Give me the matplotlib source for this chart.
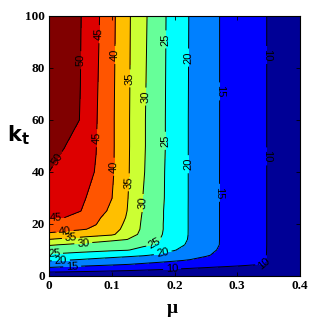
import matplotlib
matplotlib.use("Agg")
import matplotlib.pyplot as plt

# grid
mu = [0, 0.025, 0.05, 0.075, 0.1, 0.125, 0.15, 0.175, 0.2, 0.225, 0.25, 0.275, 0.3, 0.35, 0.4]
kt = [0, 1.5, 3, 4.5, 6, 8, 10, 12, 14, 16, 18, 20, 22.5, 25, 30, 40, 50, 60, 100]

z_rows = [
    [5.6, 5.6, 5.5, 5.5, 5.5, 5.4, 5.4, 5.3, 5.3, 5.3, 5.2, 5.2, 5.2, 5.1, 5.0],
    [10.0, 9.75, 9.5, 9.25, 9.0, 8.75, 8.5, 8.25, 8.0, 7.75, 7.5, 7.25, 7.0, 6.5, 6.0],
    [14.4, 13.9, 13.4, 13.0, 12.5, 12.0, 11.5, 11.0, 10.6, 10.1, 9.6, 9.1, 8.6, 7.5, 6.5],
    [17.5, 17.0, 16.5, 16.0, 15.6, 15.1, 14.5, 13.9, 13.4, 12.8, 12.2, 11.6, 11.1, 9.8, 6.8],
    [20.4, 19.9, 19.3, 18.6, 18.0, 17.3, 16.7, 16.1, 15.4, 14.7, 13.7, 12.8, 11.8, 9.8, 7.0],
    [24.4, 23.7, 23.1, 22.4, 21.7, 21.1, 20.4, 19.4, 18.1, 16.7, 15.4, 14.0, 12.6, 9.8, 7.0],
    [27.4, 27.0, 26.5, 26.1, 25.6, 25.2, 23.8, 22.0, 20.2, 18.3, 16.3, 14.4, 12.9, 9.8, 7.0],
    [30.4, 29.7, 28.9, 28.1, 27.3, 26.5, 25.7, 24.6, 21.7, 19.1, 16.8, 14.7, 13.1, 9.8, 7.0],
    [34.8, 33.8, 32.9, 31.9, 30.9, 29.9, 27.6, 25.2, 22.3, 19.5, 17.0, 14.7, 13.1, 9.8, 7.0],
    [39.3, 38.4, 37.4, 36.5, 35.6, 32.7, 28.5, 25.7, 22.6, 19.6, 17.0, 14.7, 13.1, 9.8, 7.0],
    [41.5, 41.0, 40.4, 39.4, 36.8, 33.5, 29.1, 25.9, 22.7, 19.6, 17.0, 14.7, 13.1, 9.8, 7.0],
    [43.4, 42.3, 41.2, 40.1, 37.4, 34.0, 29.2, 25.9, 22.7, 19.6, 17.0, 14.7, 13.1, 9.8, 7.0],
    [45.2, 45.01, 43.0, 40.9, 38.0, 34.6, 29.4, 26.0, 22.7, 19.6, 17.0, 14.7, 13.1, 9.8, 7.0],
    [45.9, 45.5, 45.1, 42.5, 38.8, 34.9, 29.7, 26.0, 22.7, 19.6, 17.0, 14.7, 13.1, 9.8, 7.0],
    [47.3, 46.5, 45.6, 43.9, 40.1, 35.2, 29.9, 26.2, 22.8, 19.6, 17.0, 14.7, 13.1, 9.8, 7.0],
    [50.0, 48.3, 46.6, 44.8, 40.7, 35.6, 30.4, 26.3, 22.8, 19.6, 17.0, 14.7, 13.1, 9.8, 7.0],
    [51.5, 50.1, 47.6, 45.1, 40.8, 35.7, 30.6, 26.5, 22.9, 19.6, 17.1, 14.7, 13.1, 9.8, 7.0],
    [53.0, 51.5, 49.9, 45.3, 40.8, 35.7, 30.6, 26.5, 22.9, 19.6, 17.1, 14.7, 13.1, 9.8, 7.0],
    [54.0, 52.1, 50.2, 46.1, 41.2, 35.9, 31.1, 26.7, 23.0, 19.7, 17.1, 14.7, 13.1, 9.8, 7.0],
]

line_levels = [10, 15, 20, 25, 30, 35, 40, 45, 50]
fill_levels = [0] + line_levels + [60]
band_colors = ["#000096", "#0000FF", "#0080FF", "#00FFFF", "#66FF99",
               "#CCFF33", "#FFBF00", "#FF5500", "#DD0000", "#800000"]

# where the contour labels sit (mu, kt)
label_spots = [
    (0.054, 83), (0.02, 44),
    (0.083, 93), (0.078, 53), (0.01, 22),
    (0.108, 85), (0.11, 42), (0.025, 17),
    (0.131, 76), (0.13, 36), (0.035, 14.5),
    (0.157, 69), (0.156, 28), (0.055, 11.5),
    (0.187, 91), (0.187, 52), (0.169, 12.3), (0.008, 8),
    (0.222, 84), (0.224, 43), (0.182, 8), (0.019, 5),
    (0.27, 71), (0.27, 32), (0.037, 3.5), (0.196, 4),
    (0.346, 85), (0.346, 46), (0.344, 4.5),
]

fig = plt.figure(figsize=(3.2, 3.27), dpi=100)
ax = fig.add_axes([49 / 320, 1 - 276 / 327, 251 / 320, 260 / 327])

ax.contourf(mu, kt, z_rows, levels=fill_levels, colors=band_colors)
cs = ax.contour(mu, kt, z_rows, levels=line_levels, colors="black", linewidths=0.7)
labels = ax.clabel(cs, fmt="%d", fontsize=8, inline=True, inline_spacing=2, manual=label_spots)
for t in labels:
    t.set_fontfamily("Liberation Sans")

ax.set_xlim(0, 0.4)
ax.set_ylim(0, 100)
ax.set_xticks([0, 0.1, 0.2, 0.3, 0.4])
ax.set_xticklabels(["0", "0.1", "0.2", "0.3", "0.4"])
ax.set_yticks([0, 20, 40, 60, 80, 100])
ax.tick_params(direction="in", top=True, right=True, length=3, width=0.6, pad=3)
for lab in ax.get_xticklabels() + ax.get_yticklabels():
    lab.set_fontfamily("Liberation Serif")
    lab.set_fontweight("bold")
    lab.set_fontsize(9.5)
for s in ax.spines.values():
    s.set_linewidth(0.8)

ax.set_xlabel("μ", fontfamily="Liberation Serif", fontweight="bold", fontsize=14, va="center")
ax.xaxis.set_label_coords(0.49, -0.125)
plt.rcParams["mathtext.fontset"] = "stix"
ax.set_ylabel(r"$\mathbf{k_t}$", fontsize=15, rotation=0, va="center", ha="center")
ax.yaxis.set_label_coords(-0.12, 0.54)

fig.savefig("out.png", dpi=100)
